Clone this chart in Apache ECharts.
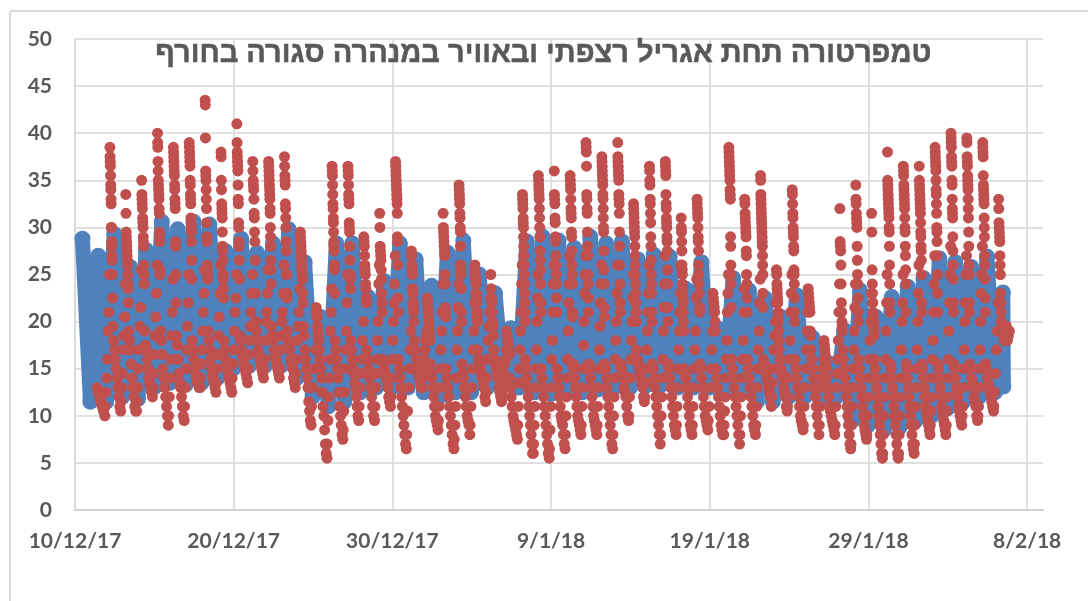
<!DOCTYPE html>
<html>
<head>
<meta charset="utf-8">
<style>html,body{margin:0;padding:0;background:#fff}#chart{width:1088px;height:601px}</style>
<script src="https://cdn.jsdelivr.net/npm/echarts@6/dist/echarts.min.js"></script>
</head>
<body>
<div id="chart"></div>
<script>
const titleText = 'טמפרטורה תחת אגריל רצפתי ובאוויר במנהרה סגורה בחורף';
// x axis counts days from this date
const startDate = [2017, 11, 10];

// floor temperature: daily high and low, one entry per day
const blueHigh = [28.8,27,29.3,25.8,27.6,30.6,29.8,30.6,30.3,27.5,28.8,27.3,28.3,29.8,26.3,20.5,28.3,28.3,22.6,24.3,28.3,26.6,23.8,27.3,28.6,25,23,19.3,28.5,29,28.6,27.8,29,28.3,28.5,26.6,27.1,26.9,23.5,26.3,19.3,24.6,23.3,22.5,20.5,22.8,18.3,15.6,19.1,23.3,20.5,22.6,23.7,24.6,26.7,26.3,25.8,26.9,23.1];
const blueLow = [11.5,11.5,12,11.8,13,13.5,13.3,13.5,14,15,15.3,15.3,15.3,14,12,11,11.5,12.5,13,13,13,12.5,12,12.5,12.5,13,13.5,13,12.5,12.3,12.5,12.5,12.8,13,13,13.2,13.3,13,13,13,12.5,12.5,11.5,11.5,12,12,12,12,9.5,9,8.5,8.8,9.5,10,10.8,11.5,12,12.5,13.1];

// air temperature, day by day: morning rise, midday column, night cooling
const redRise = [
[],[],
[11,12.5,14,16,19,21,25],[11.5,13,14.5,17,18.5,20.5,24],[11.5,13,15,17,19.5,21.5,25.5],[13,14.5,16.5,18.5,20.5,23,26],
[10,12,14,16,18.5,21,24.5],[11,13,15,17,19.5,22,25],[14,15.5,17,19,21,23,25.5],[13.5,15,16.5,18.5,20.5,23,26],
[14,15.5,17,19,21,22.5,25],[15,16.5,18,19.5,21,23,25],[15,16,18,20,21,23,25.5],[15,17,18.5,20,21,23,26],
[14.5,16,18,19.5,21,23.5],[11,13,15,17],[7,9.5,12,14,16,19,21,23.5],[8.5,10.5,12.5,15,17,19,22,25],
[11,13,14.5,16,18,20],[11,13,14.5,16,18,20,24,26],[12,14,16,18,20,22,24,27],[8,10.5,13,15,17,19],
[14,15,16,17,18,18.5,19],[9.5,11,13,15,17,19,21,24],[7.5,9,11,14,17,19,21.5,24],[9,11,13,15,17,19,22],
[12.5,14,16,18,19.5,21,22.5],[12.5,13.5,14.5,15.5,16,17],[9,11,13.5,15,17,19,21,24,26],[7,9,11,13,15,17,20,22.5,25],
[6.5,8.5,11,13,16,18,21,24,26],[8,10,12,14,16,19,22,24,27],[9,11,13,15,17.5,20,23,25,27],[9,11,13,15,17,19.5,22,24,26],
[8,10,12,14,16,18,20,23,26],[10,12,14,16,18,20,22.5,25],[12,13.5,15,17,19,21,23,26],[8,10,12,14,16,19,21.5,24,27],
[9,11,13,15,17,19,21,23,26],[9,11,13,15,17,19,22.5,24.5],[9.5,11,13,15,17,19],[9,10.5,12,14,16,18,21,23,25],
[8,10,12,14,16,18,21,23.5],[9,11,13,15,17,19,22,24.5],[12,13.5,15,17,18.5,20,22],[11,12,14,16,18,21,23,25],
[9,11,13,15,17,19,21],[9,11,13,14,15,16],[9,11,13,14.5,16,18,21,24],[7,9,11,13,15,17,19,21.5,24],
[8,10,12,14,16,18,20,23],[6,8,10,12,14,16,19,22,25],[6,8,10,12,14,17,20,22,25],[7,9,11,13,15,17,20,23,26],
[9,10.5,12,14,16,18,21,24,27],[9,10.5,12,14,16,19,22,25,28],[10,11,13,15,17,20,22,25,27],[10,11,13,15,17,20,23,25,28],
[11,12.5,14.5,17,19,22]
];
const redPeak = [
[],[],
[38.5,37.5,37,36.5,35.5,34.5,34,33,32.5,30,30,28.5,28,27,26.5,25,22.5],
[33.5,31.5,29.5,29,28.5,28,27.5,27,26.5,26,25,24,23.5,22],
[35,33.5,33,32.5,32,31,30.5,30,29,28.5,28,26,25,24],
[40,39,38.5,37,36,35,34.5,34,33.5,33,32,31.5,29.5,29,28.5,25.5,25],
[38.5,38,37.5,37,36.5,36,35.5,34.5,34,33,32.5,32,28.5,28,25,22],
[39,38.5,38,37.5,37,36.5,35,34.5,33.5,33,32.5,31,30.5,30,29.5,28.5,26.5,24.5],
[43.5,43,39.5,36,35.5,35,34,33,32,30.5,29,28.5,26,25.5,25,24.5],
[38,37.5,35,34,32.5,32,31.5,31,29.5,28,27.5,26.5,25,24.5,23.5,22.5],
[41,39,38,37.5,37,36.5,36,34.5,33,32.5,30.5,30,28.5,28,26.5,24.5],
[37,36,35,34.5,34,33,31.5,31,29.5,28.5,26.5,23],
[37,36.5,36,35.5,35,34.5,34,33.5,33,32,31.5,30,29,28,26.5,25.5,24],
[37.5,36.5,35.5,35,34.5,32.5,32,31,30,28.5,27.5,25,25,23,22.5],
[29.5,29,28.5,28,27.5,27,26.5,26,25.5,25,24.5,23,22],
[21.5,21,20.5,19.5,19,18.5,18],
[36.5,36,35.5,34.5,33.5,32.5,32,31,30.5,29.5,28.5,28,27.5,26,25.5,23],
[36.5,36,35.5,34.5,33.5,33,32.5,30.5,30,29.5,28,26.5,25,24.5,23.5],
[29,28.5,28,27,26,25.5,25,24,23.5,22.5,22],
[31.5,30,28,27.5,27,26.5,25.5,24.5,23,22,21],
[37,36.5,36,35.5,35,34.5,34,33.5,33,32.5,31.5,29,28.5,26,22.5,21],
[27.5,27,26,25.5,25,23.5,23,22,21.5,21,20],
[22.5,22,21.5,21,20.5,20,19.5,19,18.5,18],
[31.5,30,29.5,29,28.5,28,27.5,27,25,24,21.5,21,20.5],
[34.5,34,33.5,33,32.5,31.5,31,30,29.5,28,26,25.5,25,23.5,21,20],
[26,25.5,25,24.5,24,23,22.5,22,21,20.5,20],
[25,23.5,22.5,22,21,20,19.5,18.5],
[19,18.5,18,17.5,17,16.5],
[33.5,33,32.5,32,31,30.5,30,29,28,27,26,25,24,23,22,21,20],
[35.5,35,34.5,34,33.5,33,32,31,30,29,27.5,26.5,25.5,24,22,21],
[36,33.5,33,32.5,31,30.5,29,28.5,27,26,25,24,22.5,21],
[35.5,35,34.5,34,33,32,31.5,31,29.5,29,27.5,26,25,24,21,20.5],
[39,38.5,38,36.5,33.5,33,32,31.5,29.5,28,27,25,24,22.5,21],
[37.5,37,36.5,36,35.5,35,34.5,33.5,33,32,31,30,29.5,27.5,25.5,24,21.5,20.5],
[39,37.5,37,36.5,36,35.5,35,33.5,33,32.5,31.5,29.5,28,26,24,22,21],
[32.5,32,31.5,31,30.5,30,29.5,29,28,27,26,25,24,23,22,21,20],
[36.5,36,35,34.5,33,32.5,31.5,30.5,29,28,26.5,25,24,23,21,20],
[37,36.5,36,35.5,33.5,32.5,32,31,30.5,30,29,28.5,27.5,25.5,24,21.5,20],
[31,30,29.5,28.5,27.5,26,25.5,25,24,23.5,23,22.5,22,21,20,19],
[33,32.5,32,31.5,31,30,29,28.5,27.5,26,25,24,23,21.5,21],
[23,22.5,22,21.5,21,20,19],
[38.5,38,37.5,37,36.5,36,35.5,35,34,33.5,33,29,28,26,25,24,21.5],
[33,32.5,31.5,31,30.5,30,29.5,29,27.5,27,25,24,22.5,21],
[35.5,35,33.5,33,32.5,32,31.5,31,30.5,30,29.5,29,28.5,28,27,26,25,23,21.5],
[25.5,25,24,23.5,23,22.5,22,21,20.5,20,19,18],
[34,33.5,32.5,31.5,31,30,29.5,29,28,27.5,25.5,25,24,22.5,21,20],
[23.5,23,22.5,22,21.5,21,19,18.5],
[18,17.5,17,16.5,16,15.5,15],
[32,28.5,28,27.5,26,24,22,21,20,19.5,19],
[34.5,33,32.5,31.5,31,30.5,30,28,26.5,25,24,22.5,21,20],
[31.5,29.5,25.5,24,23,22,21,20.5,20,19.5,19,18.5],
[38,35,34.5,34,33.5,33,32.5,32,31.5,31,30,29.5,28,26,24,22,21],
[36.5,36,35.5,34.5,34,33.5,33,32.5,32,31,30,29.5,28,27,25.5,24,21],
[36.5,35,34.5,34,33.5,33,32.5,32,31.5,30.5,29.5,29,28,27.5,26.5,25,22,21],
[38.5,38,37.5,37,36.5,36,35,34,33.5,32.5,31.5,30,29.5,28.5,27,25,23,21],
[40,39.5,39,38.5,37.5,37,36.5,35,34.5,33,32,31.5,31,29,27.5,26,24.5,22,21],
[39.5,39,37.5,37,36.5,35.5,35,34.5,34,33,32,31,29.5,28,26,25,22,21],
[39,38.5,38,37.5,35.5,34.5,34,33.5,33,32.5,31,30,29,27,26,24.5,22.5,21],
[33,32,30.5,30,29.5,29,28.5,27,26,25,23,22,21,20]
];
const redCool = [
[],[13,12.5,12,11.5,11,10.5,10],
[19.5,18,17,16,15,14,13,12,11,10.5],[19,18,17,15.5,14,13,12,11,10.5,10.5],[19,17.5,17,16,15,14,13.5,13,12.5,12],
[19,18,16.5,15,14,13,12,11,10,9],[18.5,17.5,16,14.5,13.5,13,12,11,10,9.5],[18,17,16,15,14.5,14,13.5,13.5,13,13],
[19,18,17,16,15,14.5,14,13.5,13,12.5],[18,17,16,15.5,15,14.5,14,13.5,13,12.5],[18.5,18,17,16.5,16,15.5,15,14.5,14,13.5],
[20,19,18,17,16.5,16,15.5,15,14.5,14],[19.5,18.5,18,17,16.5,16,15.5,15,14.5,14],[19,18,17.5,17,16,15.5,15,14,13.5,13],
[19.5,18.5,17,16,15,14,13,11.5,10.5,9.5,9],[17,16,15,14,12.5,11,10,8.5,7,6,5.5],[18,17,16,15,14,12.5,11,10,9,8,7.5],
[18,17,16,15,14.5,13.5,13,12,11,10,9.5],[17,16,15,14,13,12,11,10,9.5],[16,15.5,15,14.5,14,13.5,13,12,11.5,11],
[16,15,14,13,12,11,10,9,8,7,6.5],[18,17,16,15,14.5,14,13.5,13,13],[15.5,14.5,14,13,12,11,10,9.5,9,8.5],
[15,14,13,12,11,10,9,8,7,6.5],[15.5,14.5,14,13,12,11,10,9.5,9,8],[17,16,15.5,15,14.5,14,13.5,13,12,11.5],
[17,16,15.5,15,14.5,14,13,12.5,12,11.5],[14,13,12,11,10,9.5,9,8.5,8,7.5],[16,15,14,13,12,11,10,9,8,7,6,6],
[15,14,13,12,11,10,9,8,7,6,5.5],[15,14,13,12,11,10,9.5,9,8,7,6.5],[15.5,15,14,13,12,11,10,9.5,9,8.5,8],
[15.5,15,14,13,12,11,10,9.5,9,8.5,8],[15.5,15,14,13,12,11,10,9,8,7,6.5],[15.5,15,14.5,14,13,12.5,12,11,10,9.5],
[17,16,15.5,15,14.5,14,13.5,13,12,11.5],[15.5,15,14,13,12,11,10,9,8,7],[15.5,15,14,13,12,11,10,9,8.5,8],
[15,14.5,14,13,12,11,10,9,8.5,8],[15.5,15,14,13,12,11,10,9.5,9,8.5],[15,14,13,12,11,10,9,8.5,8,8],
[16,15,14,13,12,11,10,9,8,7],[16,15,14,13,12,11,10,9,8.5,8],[16,15.5,15,14.5,14,13.5,13,12.5,12,11],
[17,16,15,14.5,14,13,12.5,12,11,10.5],[16,15,14,13,12,11,10,9.5,9,8.5],[17,16,15,14,13,12,11,10,9,8],
[14,13,12,11,10.5,10,9.5,9,8.5,8],[17,16,15,14,13,12,11,10,9,8,7,6.5],[16,15,14,13,12,11,10,9,8.5,8,7.5],
[16,15,14,13,12,11,10,9,8,7,6,5.5],[15.5,15,14,13,12,11,10,9,8,7,6,5.5],[15.5,15,14,13,12,11,10,9,8,7,6.5,6],
[15.5,15,14,13,12,11,10.5,10,9.5,9,8.5,8],[15.5,15,14,13,12,11,10.5,10,9.5,9,8.5,8],[15.5,15,14,13,12.5,12,11,10.5,10,9.5,9],
[15.5,15,14,13.5,13,12,11.5,11,10,9.5],[15.5,15,14,13.5,13,12.5,12,11.5,11,10.5],[19.5,19,18.5,18,19,19.5,18,18.5,19]
];

// place samples of a part of the day evenly between two day fractions
function spread(out, vals, day, from, to) {
  vals.forEach(function (v, i) {
    const t = vals.length > 1 ? from + (to - from) * i / (vals.length - 1) : from;
    out.push([day + t, v]);
  });
}

const blueData = [];
blueHigh.forEach(function (v, k) {
  blueData.push([k + 0.47, v]);
  blueData.push([k < blueHigh.length - 1 ? k + 0.97 : k + 0.5, blueLow[k]]);
});

const redData = [];
for (let k = 0; k < redPeak.length; k++) {
  spread(redData, redRise[k], k, -0.1, 0.18);
  spread(redData, redPeak[k], k, 0.2, 0.36);
  spread(redData, redCool[k], k, 0.38, 0.88);
}

function dayLabel(value) {
  const d = new Date(startDate[0], startDate[1], startDate[2] + value);
  return d.getDate() + '/' + (d.getMonth() + 1) + '/' + String(d.getFullYear()).slice(2);
}

const chart = echarts.init(document.getElementById('chart'));
const labelFont = { color: '#595959', fontFamily: 'Lato', fontWeight: 'bold', fontSize: 21 };

chart.setOption({
  animation: false,
  backgroundColor: '#fff',
  grid: { left: 75, right: 45, top: 39, bottom: 91 },
  graphic: [
    { type: 'line', shape: { x1: 10, y1: 11, x2: 1088, y2: 11 }, style: { stroke: '#D9D9D9', lineWidth: 2 } },
    { type: 'line', shape: { x1: 10, y1: 11, x2: 10, y2: 601 }, style: { stroke: '#D9D9D9', lineWidth: 2 } },
    {
      type: 'text', left: 155, top: 39, z: 50,
      style: { text: titleText, fill: '#595959', stroke: '#595959', lineWidth: 0.5, font: 'bold 29px "Liberation Sans"' }
    }
  ],
  xAxis: {
    type: 'value', min: 0, max: 61, interval: 10,
    axisLine: { show: true, onZero: false, lineStyle: { color: '#D0D0D0', width: 2 } },
    axisTick: { show: false },
    axisLabel: Object.assign({ margin: 21, showMaxLabel: false, formatter: dayLabel }, labelFont),
    splitLine: { show: true, showMaxLine: false, lineStyle: { color: '#E0E0E0', width: 2 } }
  },
  yAxis: {
    type: 'value', min: 0, max: 50, interval: 5,
    axisLine: { show: true, lineStyle: { color: '#D9D9D9', width: 2 } },
    axisTick: { show: false },
    axisLabel: Object.assign({ margin: 23 }, labelFont),
    splitLine: { show: true, lineStyle: { color: '#E0E0E0', width: 2 } }
  },
  series: [
    {
      type: 'line', data: blueData, symbol: 'circle', symbolSize: 16, showAllSymbol: true,
      itemStyle: { color: '#4F81BD' },
      lineStyle: { color: '#4F81BD', width: 15, cap: 'round', join: 'round' },
      z: 2
    },
    {
      type: 'scatter', data: redData, symbol: 'circle', symbolSize: 11,
      itemStyle: { color: '#C0504D', opacity: 1 },
      z: 3
    }
  ]
});
</script>
</body>
</html>
